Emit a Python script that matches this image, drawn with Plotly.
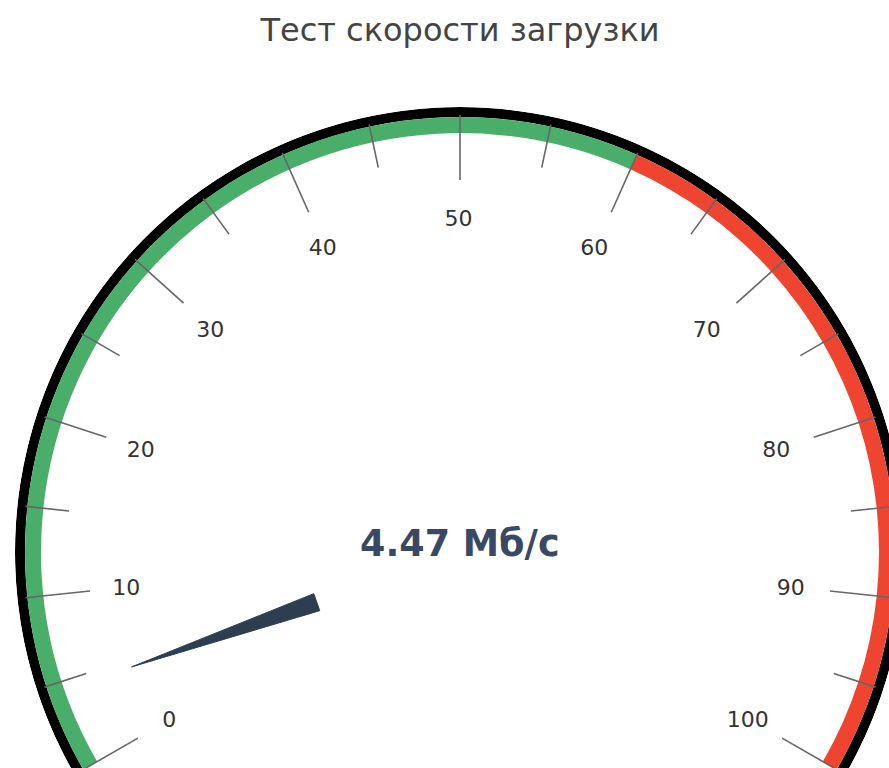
import math
import plotly.graph_objects as go

# ---- data ----
title_text = "Тест скорости загрузки"
value = 4.47
value_label = "4.47 Мб/с"
gauge_min, gauge_max = 0, 100
band_starts = [0, 60]
band_ends = [60, 100]
band_colors = ["#4aae6b", "#ee4430"]
major_ticks = [0, 10, 20, 30, 40, 50, 60, 70, 80, 90, 100]
minor_ticks = [5, 15, 25, 35, 45, 55, 65, 75, 85, 95]
tick_labels = [str(v) for v in major_ticks]

# gauge spans 240 degrees for 0..100
DEG_PER_UNIT = 240.0 / (gauge_max - gauge_min)
ROTATION = 210


def ang(v):
    return (v - gauge_min) * DEG_PER_UNIT


# radii (radial axis in pixel-like units)
R_BAND_IN, R_BAND_OUT, R_RIM_OUT = 419, 435, 445
R_MAJOR = (372, 437)
R_MINOR = (393, 437)
R_LABEL = 334
LABEL_SHIFT = (-1.5, -2.5)   # small screen-space nudge of the tick labels
R_NEEDLE = (152, 348)
NEEDLE_HALF = 3.4

FONT = "DejaVu Sans"

fig = go.Figure()

# black rim
fig.add_trace(go.Barpolar(
    r=[R_RIM_OUT - R_BAND_OUT], base=[R_BAND_OUT],
    theta=[ang((gauge_min + gauge_max) / 2)], width=[ang(gauge_max)],
    marker=dict(color="#000000", line=dict(width=0)),
    hoverinfo="skip", showlegend=False))

# coloured bands
fig.add_trace(go.Barpolar(
    r=[R_BAND_OUT - R_BAND_IN] * len(band_starts),
    base=[R_BAND_IN] * len(band_starts),
    theta=[ang((a + b) / 2) for a, b in zip(band_starts, band_ends)],
    width=[ang(b) - ang(a) for a, b in zip(band_starts, band_ends)],
    marker=dict(color=band_colors, line=dict(width=0)),
    hoverinfo="skip", showlegend=False))

# tick marks
tr, tt = [], []
for v in major_ticks:
    tr += [R_MAJOR[0], R_MAJOR[1], None]
    tt += [ang(v), ang(v), None]
for v in minor_ticks:
    tr += [R_MINOR[0], R_MINOR[1], None]
    tt += [ang(v), ang(v), None]
fig.add_trace(go.Scatterpolar(
    r=tr, theta=tt, mode="lines",
    line=dict(color="#666666", width=1.6),
    cliponaxis=False, hoverinfo="skip", showlegend=False))

# tick labels (polar position with a small screen-space nudge)
lab_r, lab_t = [], []
for v in major_ticks:
    a = math.radians(ROTATION - ang(v))
    x = R_LABEL * math.cos(a) + LABEL_SHIFT[0]
    y = R_LABEL * math.sin(a) + LABEL_SHIFT[1]
    lab_r.append(math.hypot(x, y))
    lab_t.append((ROTATION - math.degrees(math.atan2(y, x))) % 360)
fig.add_trace(go.Scatterpolar(
    r=lab_r, theta=lab_t,
    mode="text", text=tick_labels, textposition="middle center",
    textfont=dict(family=FONT, size=22, color="#333333"),
    cliponaxis=False, hoverinfo="skip", showlegend=False))

# needle
fig.add_trace(go.Scatterpolar(
    r=[R_NEEDLE[0], R_NEEDLE[1], R_NEEDLE[0], R_NEEDLE[0]],
    theta=[ang(value) - NEEDLE_HALF, ang(value), ang(value) + NEEDLE_HALF,
           ang(value) - NEEDLE_HALF],
    mode="lines", fill="toself", fillcolor="#2c3e50",
    line=dict(color="#2c3e50", width=1),
    cliponaxis=False, hoverinfo="skip", showlegend=False))

# sector slightly wider than the 240-degree dial so end labels stay visible
SECTOR = [-32, 212]
W, H = 906, 788
MT, MB, ML, MR = 107, 0, 15, 1
fig.update_layout(
    width=W, height=H,
    margin=dict(l=ML, r=MR, t=MT, b=MB, pad=0),
    paper_bgcolor="white",
    font=dict(family=FONT),
    title=dict(text=title_text, x=0.5, xref="paper", y=1 - 30 / H,
               yref="container", yanchor="middle", xanchor="center",
               font=dict(family=FONT, size=32, color="#444444")),
    polar=dict(
        sector=SECTOR,
        bgcolor="rgba(0,0,0,0)",
        radialaxis=dict(visible=False, range=[0, R_RIM_OUT]),
        angularaxis=dict(rotation=ROTATION, direction="clockwise",
                         showline=False, showgrid=False,
                         showticklabels=False, ticks=""),
    ),
    annotations=[dict(text="<b>" + value_label + "</b>", x=0.5,
                      y=(H - MB - 543) / (H - MT - MB),
                      xref="paper", yref="paper", showarrow=False,
                      font=dict(family=FONT, size=36.5, color="#394863"))],
)

fig.write_html(
    "out.html",
    config={"displayModeBar": False},
    post_script="document.body.style.margin='0';"
                "document.body.style.overflow='hidden';"
                "document.documentElement.style.overflow='hidden';")
